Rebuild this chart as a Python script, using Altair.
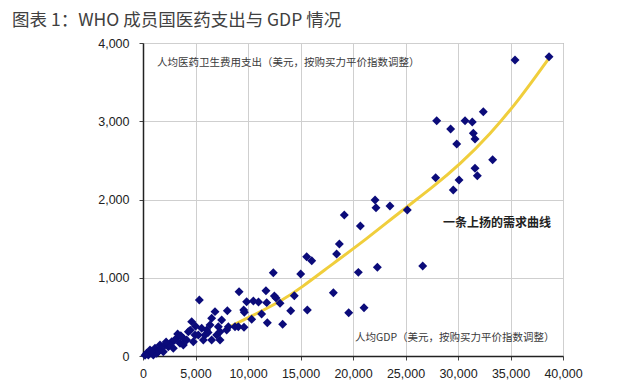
import altair as alt
import pandas as pd

# Scatter: per-capita GDP (PPP, USD) vs per-capita health spending (PPP, USD)
gdp = [190, 349, 508, 667, 984, 1143, 1302, 1460, 1619, 1937, 2095, 2413, 2730, 2889,
       3207, 3524, 3842, 3842, 4159, 4318, 4635, 4794, 4953, 5270, 5366, 5588, 5747,
       5905, 6064, 6382, 6540, 6540, 6858, 7016, 7175, 7334, 7334, 7493, 7970, 8033,
       8128, 8763, 9080, 2500, 3000, 3300, 4500, 5000, 6200, 800, 1700, 2200, 3600,
       9150, 9590, 9650, 9870, 9620,
       11710, 14410, 18130, 10510, 11000, 11780, 12510, 12670, 13050, 11300, 10350,
       14070, 15650, 19590, 21050, 11840, 13300, 12410, 15020, 15590, 16070, 18700,
       18440, 20510, 22320, 26640,
       19170, 20700, 22100, 22190, 23520, 25170, 27870, 29550, 30100, 31620, 31840,
       33300, 29880, 31620, 31460, 29300, 27970, 30670, 31360, 32410, 35430, 38670]
spend = [10, 34, 13, 77, 13, 98, 34, 55, 141, 55, 141, 119, 183, 98,
         226, 162, 226, 141, 205, 311, 439, 183, 269, 269, 716, 354, 205,
         269, 332, 396, 482, 205, 567, 269, 375, 311, 205, 460, 332, 579,
         375, 375, 375, 150, 200, 280, 330, 380, 300, 60, 90, 180, 260,
         822, 588, 560, 694, 367,
         835, 771, 809, 703, 690, 682, 767, 741, 673, 537, 469,
         579, 588, 553, 617, 426, 405, 1065, 1048, 1269, 1218, 1431,
         1303, 1069, 1133, 1150,
         1802, 1661, 1994, 1895, 1917, 1866, 2279, 2121, 2249, 2399, 2304,
         2509, 2709, 2773, 2846, 2901, 3007, 3007, 2990, 3122, 3783, 3825]

# Trend ("demand") curve
curve_x = [7810, 10190, 13330, 14950, 18100, 21330, 24480, 27620, 30190, 33050, 35900, 38670]
curve_y = [345, 498, 716, 860, 1180, 1500, 1840, 2160, 2450, 2830, 3290, 3808]

title_text = "图表 1：WHO 成员国医药支出与 GDP 情况"
y_label = "人均医药卫生费用支出（美元，按购买力平价指数调整）"
x_label = "人均GDP（美元，按购买力平价指数调整）"
curve_label = "一条上扬的需求曲线"

x_ticks = list(range(0, 40001, 5000))
y_ticks = list(range(0, 4001, 500))

pts = pd.DataFrame({"gdp": gdp, "spend": spend})
crv = pd.DataFrame({"gdp": curve_x, "spend": curve_y, "o": list(range(len(curve_x)))})
one = pd.DataFrame({"a": [0]})

xs = alt.Scale(domain=[0, 40000], nice=False)
ys = alt.Scale(domain=[0, 4000], nice=False)

x_axis = alt.Axis(values=x_ticks, format=",.0f", title=None, grid=True, gridColor="#cfcfcf",
                  domainColor="#222222", domainWidth=1.5, tickColor="#444444", tickSize=4,
                  labelPadding=7, labelFont="Liberation Sans", labelFontSize=12.5,
                  labelColor="#222222", labelOverlap=False, labelFlush=False)
y_axis = alt.Axis(values=y_ticks, format=",.0f", title=None, grid=True, gridColor="#cfcfcf",
                  domainColor="#222222", domainWidth=1.5, tickColor="#444444", tickSize=4,
                  labelPadding=10, labelFont="Liberation Sans", labelFontSize=12.5,
                  labelColor="#222222", labelOverlap=False, labelFlush=False)

curve = alt.Chart(crv).mark_line(color="#F0CE3C", strokeWidth=3, interpolate="basis").encode(
    x=alt.X("gdp:Q", scale=xs, axis=x_axis),
    y=alt.Y("spend:Q", scale=ys, axis=y_axis),
    order="o:Q",
)

scatter = alt.Chart(pts).mark_point(shape="diamond", filled=True, size=80, color="#0B0B7A",
                                    opacity=1).encode(
    x=alt.X("gdp:Q", scale=xs),
    y=alt.Y("spend:Q", scale=ys),
)

def label(txt, x, y, size, weight="normal", color="#3a3a3a", font="Noto Sans CJK SC"):
    return alt.Chart(one).mark_text(text=txt, align="left", baseline="middle", fontSize=size,
                                    fontWeight=weight, color=color, font=font).encode(
        x=alt.value(x), y=alt.value(y))

layers = [
    curve,
    scatter,
    label(y_label, 14, 20, 10.5),
    label(x_label, 212, 295, 10.5),
    label(curve_label, 300, 180, 12, weight="bold", color="#222222"),
    label(title_text, -131, -22, 17.5, color="#404040"),
]

chart = alt.layer(*layers).properties(
    width=420, height=313,
    padding={"left": 135, "top": 35, "right": 69, "bottom": 24},
    autosize=alt.AutoSizeParams(type="none"),
).configure_view(stroke="#888888", strokeWidth=1)

chart.save("out.html", embed_options={"renderer": "svg", "actions": False})
